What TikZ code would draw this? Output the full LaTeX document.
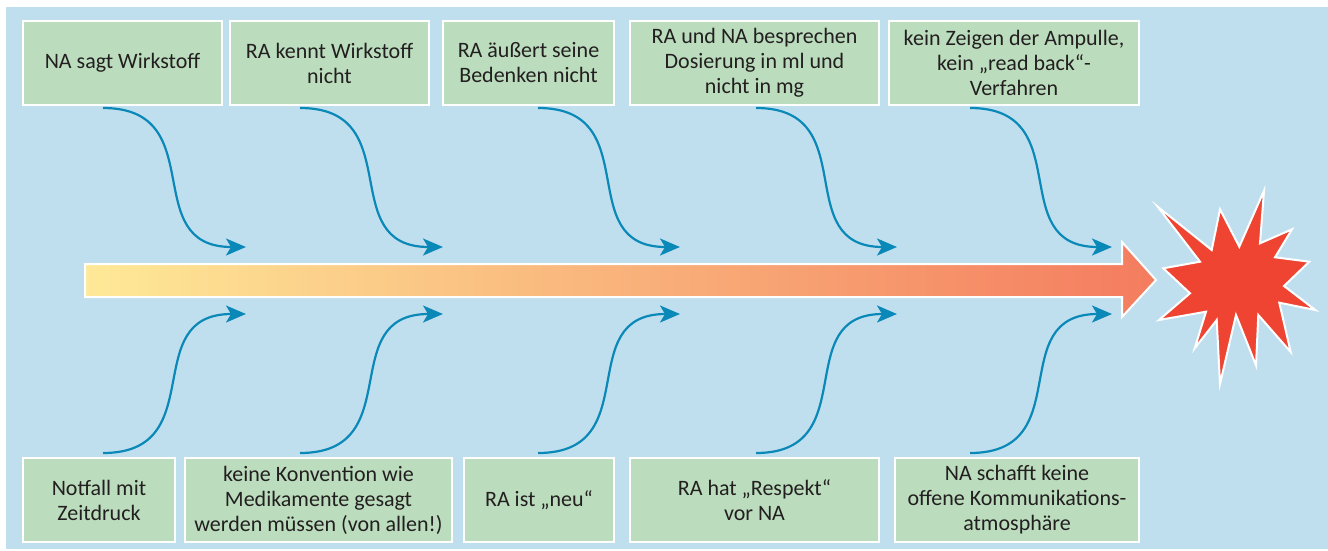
\documentclass[tikz,border=0pt]{standalone}
\usepackage{fontspec}
\setmainfont{Carlito}
\usetikzlibrary{arrows.meta}
\definecolor{bgblue}{HTML}{C0DFEE}
\definecolor{boxgreen}{HTML}{BBDDBD}
\definecolor{linkblue}{HTML}{0A88B8}
\definecolor{txtgray}{HTML}{231F20}
\definecolor{burst}{HTML}{EE4431}
\definecolor{arrowstart}{HTML}{FEE997}
\definecolor{arrowend}{HTML}{F47C5F}

\begin{document}
\begin{tikzpicture}[x=1pt,y=-1pt,
    cause/.style={fill=boxgreen,draw=white,line width=1.5pt,minimum height=84pt,inner sep=0pt,
        align=center,text=txtgray,font=\fontsize{22}{25}\selectfont},
    link/.style={linkblue,line width=2.2pt,-{Stealth[length=20pt,width=17pt,inset=5pt]}}]
\useasboundingbox (0,0) rectangle (1328,551);
\fill[bgblue] (6,7) rectangle (1328,549);
\foreach \n/\x/\w/\t in {t1/122.5/199/{NA sagt Wirkstoff},
    t2/329.5/199/{RA kennt Wirkstoff\\nicht},
    t3/528.5/171/{RA äußert seine\\Bedenken nicht},
    t4/754.5/249/{RA und NA besprechen\\Dosierung in ml und\\nicht in mg},
    t5/1014/250/{kein Zeigen der Ampulle,\\kein „read back“-\\Verfahren}} {
    \node[cause,minimum width=\w pt] (\n) at (\x,63) {\t};
}
\foreach \n/\x/\w/\t in {b1/99/152/{Notfall mit\\Zeitdruck},
    b2/318.5/267/{keine Konvention wie\\Medikamente gesagt\\werden müssen (von allen!)},
    b3/539/150/{RA ist „neu“},
    b4/754.5/249/{RA hat „Respekt“\\vor NA},
    b5/1017/244/{NA schafft keine\\offene Kommunikations-\\atmosphäre}} {
    \node[cause,minimum width=\w pt] (\n) at (\x,500) {\t};
}
\foreach \i/\a/\b in {1/103/246, 2/300/443, 3/538/680, 4/756/897, 5/970/1112} {
    \coordinate (ts\i) at (\a,108);
    \coordinate (te\i) at (\b,247);
    \coordinate (bs\i) at (\a,453);
    \coordinate (be\i) at (\b,314);
    \draw[link] (ts\i) to[out=0,in=180,looseness=1.4] (te\i);
    \draw[link] (bs\i) to[out=0,in=180,looseness=1.4] (be\i);
}
\draw[white,line width=2pt,left color=arrowstart,right color=arrowend]
    (85,264) -- (1122,264) -- (1122,242) -- (1156,280) -- (1122,317) -- (1122,297) -- (85,297) -- cycle;
\draw[white,line width=2pt,fill=burst,miter limit=20]
    (1157.7,206.7) -- (1211.7,250) -- (1220,209.3) -- (1239.3,246.7) -- (1264,190.7) -- (1260,243.3)
    -- (1292,229.3) -- (1275,257.3) -- (1309.3,261.7) -- (1284,286) -- (1315.3,310) -- (1279.3,302.7)
    -- (1290.7,352) -- (1258.3,315) -- (1256,365.3) -- (1236,315) -- (1220,384) -- (1216.7,320)
    -- (1194.7,348.3) -- (1206,311.7) -- (1159,320) -- (1190,293.3) -- (1163.3,268.3) -- (1200,261.7) -- cycle;
\end{tikzpicture}
\end{document}
